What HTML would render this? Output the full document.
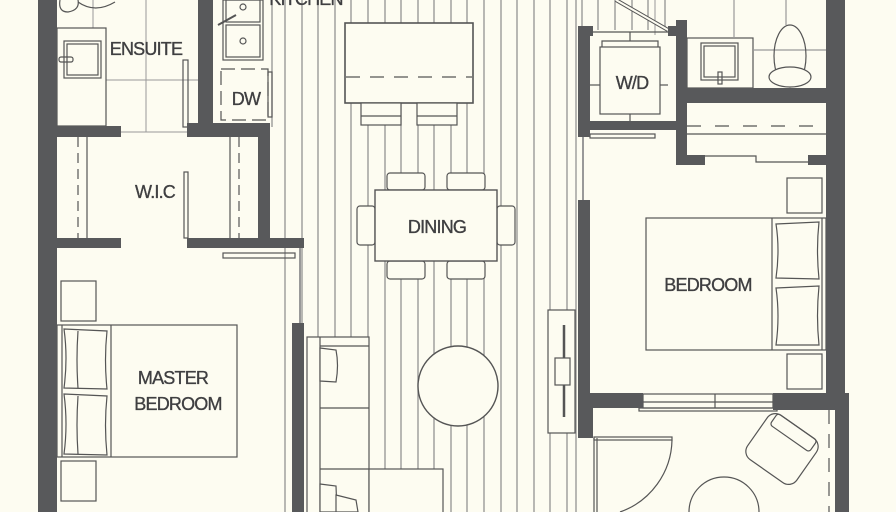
<!DOCTYPE html>
<html><head><meta charset="utf-8"><style>
html,body{margin:0;padding:0;background:#fdfcf1;width:896px;height:512px;overflow:hidden;}
svg{display:block}
text{font-family:"Liberation Sans",sans-serif;fill:#3f3f41;stroke:#3f3f41;stroke-width:0.35;font-size:18px;text-anchor:middle;letter-spacing:-0.8px}
</style></head><body>
<svg width="896" height="512" viewBox="0 0 896 512" xmlns="http://www.w3.org/2000/svg">
<rect width="896" height="512" fill="#fdfcf1"/>
<g stroke="#8a8a8a" stroke-width="1.2">
<line x1="285" y1="0" x2="285" y2="512"/><line x1="302" y1="0" x2="302" y2="512"/>
<line x1="318" y1="0" x2="318" y2="512"/><line x1="335" y1="0" x2="335" y2="512"/>
<line x1="351" y1="0" x2="351" y2="512"/><line x1="368" y1="0" x2="368" y2="512"/>
<line x1="385" y1="0" x2="385" y2="512"/><line x1="401" y1="0" x2="401" y2="512"/>
<line x1="418" y1="0" x2="418" y2="512"/><line x1="434" y1="0" x2="434" y2="512"/>
<line x1="451" y1="0" x2="451" y2="512"/><line x1="467" y1="0" x2="467" y2="512"/>
<line x1="484" y1="0" x2="484" y2="512"/><line x1="501" y1="0" x2="501" y2="512"/>
<line x1="517" y1="0" x2="517" y2="512"/><line x1="534" y1="0" x2="534" y2="512"/>
<line x1="550" y1="0" x2="550" y2="512"/><line x1="567" y1="0" x2="567" y2="512"/>
<line x1="582" y1="0" x2="582" y2="30"/><line x1="598" y1="0" x2="598" y2="30"/>
<line x1="615" y1="0" x2="615" y2="30"/><line x1="632" y1="0" x2="632" y2="30"/>
<line x1="648" y1="0" x2="648" y2="30"/><line x1="665" y1="0" x2="665" y2="30"/>
<line x1="576" y1="0" x2="576" y2="512"/>
</g>
<g fill="#fdfcf1">
<rect x="0" y="0" width="272" height="512"/>
<rect x="585" y="30" width="311" height="482"/>
</g>
<line x1="272" y1="0" x2="272" y2="127" stroke="#8a8a8a" stroke-width="1.2"/>
<line x1="300" y1="248" x2="300" y2="324" stroke="#999" stroke-width="2"/>
<line x1="583" y1="137" x2="583" y2="200" stroke="#999" stroke-width="2"/>
<g stroke="#999" stroke-width="1" fill="none">
<line x1="146" y1="0" x2="146" y2="132"/><line x1="106" y1="80" x2="198" y2="80"/>
<line x1="93" y1="0" x2="93" y2="28"/><line x1="57" y1="132" x2="198" y2="132"/>
<line x1="655" y1="0" x2="655" y2="35"/>
</g>
<g stroke="#555" stroke-width="1.2" fill="none">
<rect x="57" y="28" width="49" height="98"/>
<rect x="64" y="41" width="37" height="37"/><rect x="67" y="44" width="31" height="31"/>
<rect x="59" y="57" width="14" height="5" rx="2"/>
<path d="M60 0 Q58 12 68 12 Q80 10 78 0"/><path d="M78 2 Q95 14 115 2"/>
<rect x="183" y="60" width="5" height="67"/>
<rect x="184" y="172" width="4" height="66"/>
<line x1="87" y1="137" x2="87" y2="238"/><line x1="230" y1="137" x2="230" y2="238"/>
<line x1="78" y1="137" x2="78" y2="238" stroke-dasharray="10 6"/>
<line x1="239" y1="137" x2="239" y2="238" stroke-dasharray="10 6"/>
<rect x="223" y="0" width="40" height="60"/><rect x="226" y="0" width="34" height="22"/><rect x="226" y="25" width="34" height="32"/>
<circle cx="243" cy="7" r="3"/><circle cx="243" cy="41" r="3"/>
<line x1="218" y1="25" x2="236" y2="15" stroke-width="2"/>
<rect x="221" y="69" width="47" height="51" stroke-dasharray="14 6"/>
<rect x="268" y="72" width="4" height="45"/>
<rect x="345" y="23" width="128" height="80" fill="#fdfcf1" stroke-width="1.6"/>
<line x1="346" y1="77" x2="472" y2="77" stroke-dasharray="14 10"/>
<rect x="361" y="103" width="40" height="22" fill="#fdfcf1"/><line x1="361" y1="116" x2="401" y2="116"/>
<rect x="417" y="103" width="40" height="22" fill="#fdfcf1"/><line x1="417" y1="116" x2="457" y2="116"/>
<rect x="387" y="173" width="38" height="17" rx="3" fill="#fdfcf1"/><rect x="447" y="173" width="38" height="17" rx="3" fill="#fdfcf1"/>
<rect x="387" y="261" width="38" height="18" rx="3" fill="#fdfcf1"/><rect x="447" y="261" width="38" height="18" rx="3" fill="#fdfcf1"/>
<rect x="357" y="206" width="18" height="39" rx="3" fill="#fdfcf1"/><rect x="497" y="206" width="18" height="39" rx="3" fill="#fdfcf1"/>
<rect x="375" y="190" width="122" height="71" fill="#fdfcf1" stroke-width="1.4"/>
<circle cx="458" cy="386" r="40" fill="#fdfcf1" stroke-width="1.4"/>
<rect x="307" y="337" width="62" height="180" fill="#fdfcf1"/>
<line x1="320" y1="337" x2="320" y2="512"/><line x1="320" y1="346" x2="369" y2="346"/>
<line x1="320" y1="408" x2="369" y2="408"/>
<rect x="369" y="469" width="74" height="50" fill="#fdfcf1"/><line x1="320" y1="469" x2="369" y2="469"/>
<path d="M320 348 L336 350 Q339 365 336 382 L320 381 Z" fill="#fdfcf1"/>
<path d="M320 484 L336 486 L337 512 L320 512 Z" fill="#fdfcf1"/>
<path d="M336 495 L356 500 L358 512 L336 512 Z" fill="#fdfcf1"/>
<rect x="548" y="310" width="27" height="123" fill="#fdfcf1"/>
<line x1="564" y1="325" x2="564" y2="417" stroke-width="2.5"/>
<rect x="555" y="358" width="15" height="27" fill="#fdfcf1"/>
<rect x="57" y="325" width="180" height="132"/><line x1="111" y1="325" x2="111" y2="457"/>
<line x1="62" y1="325" x2="62" y2="457"/>
<path d="M64 329 L107 331 Q104 360 107 389 L64 388 Q68 358 64 329 Z"/>
<path d="M78 331 Q76 360 78 388"/>
<path d="M64 394 L107 396 Q104 425 107 455 L64 454 Q68 424 64 394 Z"/>
<path d="M78 396 Q76 425 78 454"/>
<rect x="61" y="281" width="35" height="40"/><rect x="61" y="461" width="35" height="40"/>
<rect x="223" y="253" width="72" height="5"/>
<rect x="600" y="47" width="60" height="67"/><path d="M602 47 L602 41 L658 41 L658 47"/>
<line x1="630" y1="32" x2="630" y2="41"/><line x1="630" y1="114" x2="630" y2="121"/>
<line x1="590" y1="85" x2="600" y2="85"/><line x1="660" y1="85" x2="668" y2="85"/>
<line x1="590" y1="32" x2="668" y2="32"/>
<line x1="616" y1="0" x2="668" y2="30" stroke-width="4"/>
<line x1="616" y1="0" x2="668" y2="30" stroke="#fdfcf1" stroke-width="2"/>
<rect x="590" y="134" width="65" height="4"/>
<rect x="687" y="38" width="66" height="50"/><rect x="701" y="43" width="37" height="37"/><rect x="704" y="46" width="31" height="31"/>
<rect x="718" y="72" width="4" height="12"/>
<line x1="753" y1="50" x2="826" y2="50" stroke="#999"/><line x1="734" y1="0" x2="734" y2="38" stroke="#999"/>
<line x1="786" y1="0" x2="786" y2="25" stroke="#999"/>
<ellipse cx="790" cy="56" rx="16" ry="31"/><ellipse cx="790" cy="77" rx="21" ry="10" fill="#fdfcf1"/>
<line x1="687" y1="126" x2="826" y2="126" stroke-dasharray="14 14"/><line x1="687" y1="134" x2="826" y2="134"/>
<path d="M705 156 L756 156 L756 162 L808 162"/>
<rect x="646" y="218" width="180" height="132"/><line x1="772" y1="218" x2="772" y2="350"/><line x1="822" y1="218" x2="822" y2="350"/>
<path d="M776 224 L819 222 Q816 250 819 279 L776 278 Q780 250 776 224 Z"/>
<path d="M776 288 L819 286 Q816 316 819 345 L776 345 Q780 316 776 288 Z"/>
<rect x="787" y="178" width="35" height="35"/><rect x="787" y="354" width="35" height="35"/>
<rect x="643" y="394" width="130" height="14"/><line x1="643" y1="402" x2="773" y2="402"/><line x1="715" y1="394" x2="715" y2="408"/>
<rect x="639" y="408" width="138" height="3"/>
<line x1="594" y1="438" x2="594" y2="512"/><line x1="597" y1="438" x2="597" y2="512"/>
<rect x="594" y="437" width="78" height="3"/>
<path d="M672 440 A78 78 0 0 1 620 512"/>
<circle cx="724" cy="512" r="35"/>
<line x1="829" y1="410" x2="829" y2="512" stroke-dasharray="14 10"/>
<g transform="translate(782 449) rotate(35)">
<rect x="-30" y="-27" width="60" height="54" rx="10"/>
<rect x="-24" y="-27" width="48" height="14" rx="3"/>
</g>
</g>
<g fill="#58595b">
<rect x="38" y="0" width="19" height="512"/>
<rect x="198" y="0" width="15" height="137"/>
<rect x="38" y="126" width="83" height="11"/>
<rect x="187" y="123" width="83" height="14"/>
<rect x="258" y="123" width="12" height="125"/>
<rect x="57" y="238" width="64" height="10"/>
<rect x="187" y="238" width="117" height="10"/>
<rect x="292" y="323" width="12" height="189"/>
<rect x="578" y="26" width="12" height="111"/>
<rect x="578" y="26" width="15" height="10"/>
<rect x="676" y="20" width="11" height="145"/>
<rect x="668" y="26" width="19" height="10"/>
<rect x="578" y="121" width="109" height="9"/>
<rect x="686" y="88" width="142" height="15"/>
<rect x="826" y="0" width="19" height="410"/>
<rect x="676" y="155" width="29" height="10"/>
<rect x="808" y="155" width="20" height="10"/>
<rect x="578" y="200" width="12" height="238"/>
<rect x="578" y="393" width="65" height="15"/>
<rect x="773" y="393" width="76" height="17"/>
<rect x="835" y="393" width="14" height="119"/>
<rect x="578" y="408" width="15" height="30"/>
</g>
<text x="146" y="55">ENSUITE</text>
<text x="246" y="105">DW</text>
<text x="306" y="5">KITCHEN</text>
<text x="155" y="198">W.I.C</text>
<text x="437" y="233">DINING</text>
<text x="632" y="89">W/D</text>
<text x="708" y="291">BEDROOM</text>
<text x="173" y="384">MASTER</text>
<text x="178" y="410">BEDROOM</text>
</svg>
</body></html>
